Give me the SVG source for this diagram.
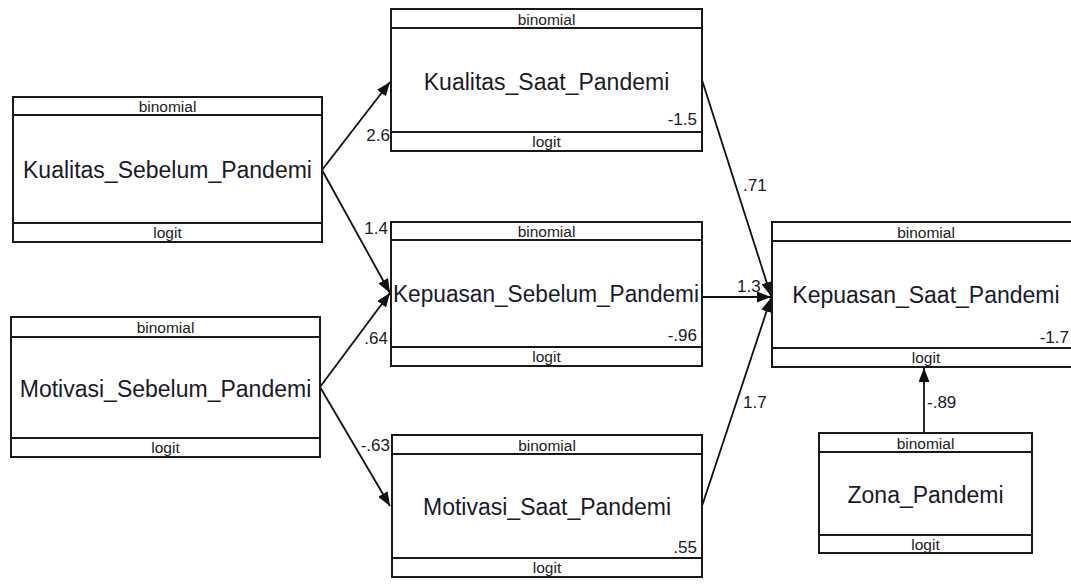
<svg xmlns="http://www.w3.org/2000/svg" width="1071" height="584" viewBox="0 0 1071 584">
<style>
.box{fill:#fff;stroke:#1a1a1a;stroke-width:2}
.sep{stroke:#1a1a1a;stroke-width:2}
.hd{font-family:"Liberation Sans",Arial,sans-serif;font-size:15.5px;fill:#222;text-anchor:middle}
.lbl{font-family:"Liberation Sans",Arial,sans-serif;font-size:23px;fill:#1a1a2a;text-anchor:middle}
.num{font-family:"Liberation Sans",Arial,sans-serif;font-size:17px;fill:#1a1a2a}
.end{text-anchor:end}
.edge{stroke:#111;stroke-width:1.8;fill:none;marker-end:url(#ah)}
</style>
<defs>
<marker id="ah" markerUnits="userSpaceOnUse" markerWidth="15" markerHeight="11" refX="14" refY="5.5" orient="auto">
<path d="M0,0 L14,5.5 L0,11 z" fill="#111"/>
</marker>
</defs>
<rect width="1071" height="584" fill="#fff"/>

<g id="connectors">
<line class="edge" x1="322" y1="170" x2="390" y2="82"/>
<line class="edge" x1="322" y1="170" x2="390" y2="293"/>
<line class="edge" x1="320" y1="387" x2="390" y2="293"/>
<line class="edge" x1="320" y1="387" x2="390" y2="506"/>
<line class="edge" x1="702" y1="80" x2="771" y2="296"/>
<line class="edge" x1="702" y1="297" x2="771" y2="297"/>
<line class="edge" x1="702" y1="506" x2="771" y2="298"/>
<line class="edge" x1="924" y1="433" x2="924" y2="368"/>
<text class="num end" x="390" y="141">2.6</text>
<text class="num end" x="388" y="234">1.4</text>
<text class="num end" x="388" y="344">.64</text>
<text class="num end" x="390" y="451">-.63</text>
<text class="num" x="743" y="191">.71</text>
<text class="num" x="737" y="292">1.3</text>
<text class="num" x="743" y="408">1.7</text>
<text class="num" x="927" y="408">-.89</text>
</g>

<g id="node-kualitas-sebelum">
<rect class="box" x="13" y="97" width="309" height="145"/>
<line class="sep" x1="13" y1="115" x2="322" y2="115"/>
<line class="sep" x1="13" y1="223" x2="322" y2="223"/>
<text class="hd" x="167.5" y="112">binomial</text>
<text class="lbl" x="167.5" y="178">Kualitas_Sebelum_Pandemi</text>
<text class="hd" x="167.5" y="238">logit</text>
</g>

<g id="node-motivasi-sebelum">
<rect class="box" x="11" y="317" width="309" height="140"/>
<line class="sep" x1="11" y1="337" x2="320" y2="337"/>
<line class="sep" x1="11" y1="438" x2="320" y2="438"/>
<text class="hd" x="165.5" y="333">binomial</text>
<text class="lbl" x="165.5" y="397">Motivasi_Sebelum_Pandemi</text>
<text class="hd" x="165.5" y="453">logit</text>
</g>

<g id="node-kualitas-saat">
<rect class="box" x="391" y="9" width="311" height="142"/>
<line class="sep" x1="391" y1="28" x2="702" y2="28"/>
<line class="sep" x1="391" y1="132" x2="702" y2="132"/>
<text class="hd" x="546.5" y="25">binomial</text>
<text class="lbl" x="546.5" y="90">Kualitas_Saat_Pandemi</text>
<text class="num end" x="697" y="125">-1.5</text>
<text class="hd" x="546.5" y="147">logit</text>
</g>

<g id="node-kepuasan-sebelum">
<rect class="box" x="391" y="222" width="311" height="144"/>
<line class="sep" x1="391" y1="240" x2="702" y2="240"/>
<line class="sep" x1="391" y1="347" x2="702" y2="347"/>
<text class="hd" x="546.5" y="237">binomial</text>
<text class="lbl" x="546" y="302" textLength="306" lengthAdjust="spacingAndGlyphs">Kepuasan_Sebelum_Pandemi</text>
<text class="num end" x="697" y="341">-.96</text>
<text class="hd" x="546.5" y="362">logit</text>
</g>

<g id="node-motivasi-saat">
<rect class="box" x="392" y="435" width="310" height="142"/>
<line class="sep" x1="392" y1="454" x2="702" y2="454"/>
<line class="sep" x1="392" y1="558" x2="702" y2="558"/>
<text class="hd" x="547" y="451">binomial</text>
<text class="lbl" x="547" y="515">Motivasi_Saat_Pandemi</text>
<text class="num end" x="697" y="553">.55</text>
<text class="hd" x="547" y="573">logit</text>
</g>

<g id="node-kepuasan-saat">
<rect class="box" x="772" y="222" width="308" height="145"/>
<line class="sep" x1="772" y1="241" x2="1080" y2="241"/>
<line class="sep" x1="772" y1="348" x2="1080" y2="348"/>
<text class="hd" x="926" y="238">binomial</text>
<text class="lbl" x="926" y="303">Kepuasan_Saat_Pandemi</text>
<text class="num end" x="1069" y="343">-1.7</text>
<text class="hd" x="926" y="363">logit</text>
</g>

<g id="node-zona">
<rect class="box" x="819" y="433" width="213" height="120"/>
<line class="sep" x1="819" y1="452" x2="1032" y2="452"/>
<line class="sep" x1="819" y1="535" x2="1032" y2="535"/>
<text class="hd" x="925.5" y="449">binomial</text>
<text class="lbl" x="925.5" y="503">Zona_Pandemi</text>
<text class="hd" x="925.5" y="550">logit</text>
</g>
</svg>
